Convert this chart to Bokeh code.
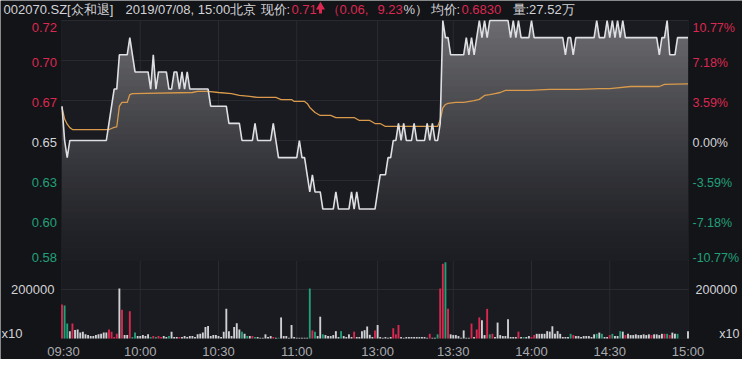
import numpy as np
from bokeh.plotting import figure
from bokeh.models import Range1d, BoxAnnotation
from bokeh.embed import file_html
from bokeh.resources import INLINE
from bokeh.core.properties import value

# ---------------- data ----------------
minutes = list(range(241))

price = (
    [0.67, 0.65, 0.64] + [0.65] * 15 +
    [0.66, 0.67, 0.68, 0.68, 0.70, 0.70, 0.70, 0.70, 0.71, 0.70] +
    [0.69] * 6 +
    [0.68, 0.70, 0.68, 0.69, 0.69, 0.69, 0.69, 0.68, 0.68, 0.69, 0.69, 0.68, 0.69, 0.68, 0.69] +
    [0.68] * 8 +
    [0.67] * 7 + [0.66] * 5 + [0.65] * 5 + [0.66] + [0.65] * 6 + [0.66, 0.65] +
    [0.64] * 8 + [0.65, 0.64, 0.64, 0.63, 0.62, 0.63, 0.62, 0.62, 0.62] +
    [0.61] * 5 + [0.62] + [0.61] * 5 + [0.62, 0.61, 0.62] + [0.61] * 7 +
    [0.62, 0.63, 0.63, 0.63, 0.64, 0.64, 0.65, 0.65, 0.66, 0.65, 0.66, 0.65, 0.65, 0.65, 0.66,
     0.65, 0.65, 0.65, 0.65, 0.66, 0.65, 0.66, 0.65, 0.65, 0.66, 0.72, 0.71, 0.71] +
    [0.70] * 6 +
    [0.71, 0.70, 0.71, 0.70, 0.71, 0.72, 0.71, 0.72, 0.71] +
    [0.72] * 8 +
    [0.71, 0.72, 0.71, 0.72] + [0.71] * 4 + [0.72] + [0.71] * 12 +
    [0.70, 0.71, 0.71, 0.70] + [0.71] * 8 +
    [0.72, 0.71, 0.71, 0.71, 0.72, 0.71, 0.72, 0.71, 0.72, 0.71, 0.72] +
    [0.71] * 13 + [0.70, 0.71, 0.71, 0.72, 0.70, 0.70, 0.70] + [0.71] * 5
)

avg_minute = [0, 1, 2, 3, 4, 18, 19, 20, 21, 22, 23, 25, 26, 27, 50, 52, 56, 60, 65, 68, 72,
              75, 82, 84, 88, 89, 93, 94, 95, 97, 99, 103, 105, 112, 114, 118, 120, 122, 124,
              144, 145, 146, 147, 148, 151, 154, 158, 160, 162, 164, 166, 168, 170, 179, 187,
              198, 206, 210, 218, 229, 231, 240]
avg_price = [0.6693, 0.6625, 0.6595, 0.6575, 0.6564, 0.6564, 0.6570, 0.6576, 0.6580, 0.6700,
             0.6722, 0.6722, 0.6768, 0.6774, 0.6780, 0.6786, 0.6786, 0.6780, 0.6774, 0.6763,
             0.6757, 0.6751, 0.6751, 0.6739, 0.6739, 0.6728, 0.6728, 0.6716, 0.6693, 0.6663,
             0.6646, 0.6646, 0.6634, 0.6634, 0.6617, 0.6617, 0.6599, 0.6599, 0.6582, 0.6582,
             0.6620, 0.6690, 0.6710, 0.6716, 0.6722, 0.6722, 0.6733, 0.6740, 0.6763, 0.6768,
             0.6774, 0.6780, 0.6792, 0.6792, 0.6798, 0.6798, 0.6803, 0.6803, 0.6815, 0.6815,
             0.6827, 0.6830]

volume = [
    139000, 135000, 61000, 30000, 61000, 35000, 37000, 24000, 28000, 17000,
    14000, 10000, 10000, 14000, 17000, 19000, 24000, 24000, 37000, 28000,
    6000, 19000, 204000, 117000, 14000, 14000, 111000, 6000, 24000, 10000,
    10000, 14000, 10000, 17000, 6000, 10000, 6000, 10000, 6000, 10000,
    6000, 10000, 28000, 6000, 6000, 6000, 6000, 10000, 6000, 10000,
    10000, 6000, 17000, 19000, 24000, 47000, 51000, 10000, 14000, 14000,
    10000, 6000, 28000, 121000, 30000, 10000, 47000, 62000, 37000, 28000,
    19000, 10000, 10000, 10000, 6000, 6000, 3000, 3000, 17000, 6000,
    10000, 6000, 3000, 3000, 86000, 10000, 10000, 3000, 55000, 6000,
    3000, 3000, 3000, 3000, 3000, 204000, 33000, 28000, 10000, 89000,
    17000, 14000, 10000, 10000, 14000, 30000, 6000, 30000, 10000, 6000,
    17000, 6000, 28000, 6000, 6000, 30000, 34000, 49000, 15000, 6000,
    33000, 55000, 6000, 3000, 6000, 3000, 6000, 42000, 17000, 55000,
    6000, 3000, 6000, 6000, 6000, 6000, 6000, 6000, 6000, 6000,
    3000, 19000, 3000, 3000, 17000, 204000, 305000, 311000, 121000, 17000,
    14000, 14000, 10000, 3000, 33000, 3000, 3000, 61000, 6000, 37000,
    86000, 75000, 14000, 121000, 17000, 19000, 6000, 65000, 14000, 10000,
    10000, 79000, 6000, 6000, 6000, 28000, 6000, 6000, 6000, 10000,
    6000, 14000, 19000, 19000, 19000, 19000, 30000, 28000, 50000, 19000,
    30000, 19000, 6000, 6000, 6000, 19000, 14000, 10000, 10000, 6000,
    10000, 10000, 10000, 6000, 17000, 19000, 24000, 19000, 6000, 6000,
    14000, 19000, 10000, 10000, 30000, 28000, 14000, 19000, 14000, 14000,
    17000, 14000, 14000, 17000, 14000, 17000, 14000, 17000, 17000, 14000,
    19000, 19000, 19000, 14000, 24000, 19000, 19000, 0, 0, 0,
    30000,
]
volume_side = (
    "rggwrwwwww" "wwwwwwwwrr" "rrwrwwrggw" "wwwwgrgrrw" "wgwwwrwwww"
    "wwwwwwwwww" "wwwwwwwwwg" "wgwrgwwwww" "wrwgwwwwww" "wwwwwgrgww"
    "gwwwwwwgww" "wwrwwwwwww" "rwwwwwwrrr" "wwwwwwwwww" "wrwwgrrgrw"
    "wwwwwwwrwr" "rwwrgrwwww" "wwwwwrwgww" "rrwwwwwwww" "wwwwwgrwww"
    "wwwwwgwgww" "rgwwgwrwww" "wwwwwwrwww" "wrgrwwgwww" "w"
)

prev_close = 0.65
pct_ticks = [10.77, 7.18, 3.59, 0.0, -3.59, -7.18, -10.77]
left_tick_labels = ["0.72", "0.70", "0.67", "0.65", "0.63", "0.60", "0.58"]
right_tick_labels = ["10.77%", "7.18%", "3.59%", "0.00%", "-3.59%", "-7.18%", "-10.77%"]
time_ticks = [0, 30, 60, 90, 121, 150, 180, 210, 240]
time_labels = ["09:30", "10:00", "10:30", "11:00", "13:00", "13:30", "14:00", "14:30", "15:00"]
vol_tick = 200000
vol_tick_label = "200000"
vol_unit = "x10"

header_parts = [
    ("002070.SZ[众和退]", "w"), ("2019/07/08, 15:00北京", "w"), ("现价:", "w"),
    ("0.71", "r"), ("（0.06,", "r"), ("9.23", "r"), ("%）", "w"),
    ("均价:", "w"), ("0.6830", "r"), ("量:27.52万", "w"),
]

assert len(price) == 241, len(price)
assert len(volume) == 241, len(volume)
assert len(volume_side) == 241, len(volume_side)

# ---------------- layout (pixel geometry) ----------------
RED = "#dc2850"
GREEN = "#22a078"
WHITE = "#cfd0d3"
TXT = "#d2d3d6"
AXIS_GRAY = "#a9aaae"
PLOT_BG = "#1a1b20"
BORDER_BG = "#131418"
GRID = "#2a2b30"
FONT = "Liberation Sans"
side_color = {"r": RED, "g": GREEN, "w": WHITE}

W, H = 742, 359
PX_L, PX_R = 61.5, 687.5          # pixel x of first / last minute
PL_L, PL_R = 61, 688               # plot area left / right
PL_T, PRICE_B, PL_B = 20, 260, 338  # plot top, price-panel bottom, volume baseline
VOL_TICK_PX = 289                  # pixel y of the 200000 volume grid line

price_hi = round(prev_close * (1 + pct_ticks[0] / 100), 2)
price_lo = round(prev_close * (1 + pct_ticks[-1] / 100), 2)
xs = (PX_R - PX_L) / 240.0                      # px per minute
ys = (PRICE_B - PL_T) / (price_hi - price_lo)   # px per price unit
vs = (PL_B - VOL_TICK_PX) / vol_tick            # px per volume unit


def X(px):
    return (px - PX_L) / xs


def YP(py):
    return price_hi + (PL_T - py) / ys


def YV(py):
    return (PL_B - py) / vs


p = figure(width=W, height=H, output_backend="svg", toolbar_location=None,
           x_range=Range1d(X(0), X(W)), y_range=Range1d(YP(H), YP(0)),
           x_axis_type=None, y_axis_type=None,
           min_border_left=0, min_border_right=0, min_border_top=0, min_border_bottom=0,
           background_fill_color=BORDER_BG, border_fill_color=BORDER_BG,
           outline_line_color=None)
p.title = None
p.extra_y_ranges = {"vol": Range1d(YV(H), YV(0))}

# plot-area background
p.add_layout(BoxAnnotation(left=X(PL_L), right=X(PL_R), top=YP(PL_T), bottom=YP(PL_B),
                           fill_color=PLOT_BG, fill_alpha=1.0, line_color="#2c2d32",
                           line_width=1, level="underlay"))

price_ticks = [prev_close * (1 + t / 100) for t in pct_ticks]

# grid lines
p.segment(x0=[X(PL_L)] * len(price_ticks), x1=[X(PL_R)] * len(price_ticks),
          y0=price_ticks, y1=price_ticks, line_color=GRID, line_width=1)
inner_t = time_ticks[1:-1]
p.segment(x0=inner_t, x1=inner_t, y0=[YP(PL_T)] * len(inner_t), y1=[YP(PL_B)] * len(inner_t),
          line_color=GRID, line_width=1)
p.segment(x0=[X(PL_L)], x1=[X(PL_R)], y0=[vol_tick], y1=[vol_tick], y_range_name="vol",
          line_color=GRID, line_width=1)

# gradient area under the price line (stacked bands)
px = np.array(minutes, dtype=float)
pr = np.array(price, dtype=float)
top_rgb = np.array([0x6c, 0x6c, 0x70])
bot_rgb = np.array([0x1c, 0x1d, 0x22])
n_bands = 40
levels = np.linspace(price_lo, price_hi, n_bands + 1)[1:][::-1]
for lev in levels:
    t = (lev - price_lo) / (price_hi - price_lo)
    c = bot_rgb + (top_rgb - bot_rgb) * (t ** 1.3)
    col = "#%02x%02x%02x" % tuple(int(round(v)) for v in c)
    p.varea(x=px, y1=price_lo, y2=np.minimum(pr, lev), fill_color=col, fill_alpha=1.0)

# volume bars
p.vbar(x=minutes, top=volume, bottom=0, width=0.72, y_range_name="vol",
       fill_color=[side_color[s] for s in volume_side], line_color=None)

# average and price lines
p.line(avg_minute, avg_price, line_color="#d99a4c", line_width=1.3)
p.line(minutes, price, line_color="#dedfe2", line_width=1.6)


def txt(x, y, text, color, align="left", size="13px", font=FONT, y_range_name="default"):
    p.text(x=[x], y=[y], text=[text], text_color=color, text_align=align,
           text_baseline="middle", text_font=value(font), text_font_size=value(size),
           y_range_name=y_range_name)


# price axis labels (centres a little below their grid lines, extremes nudged inward)
label_centre_px = [27, 62, 102, 142, 182, 222, 257]
for i, (ll, rl) in enumerate(zip(left_tick_labels, right_tick_labels)):
    col = RED if pct_ticks[i] > 0 else (GREEN if pct_ticks[i] < 0 else TXT)
    yy = YP(label_centre_px[i])
    txt(X(56.5), yy, ll, col, align="right")
    txt(X(692), yy, rl, col, align="left", size="12.5px")

# volume axis labels
txt(X(54), vol_tick, vol_tick_label, TXT, align="right", y_range_name="vol")
txt(X(695), vol_tick, vol_tick_label, TXT, align="left", size="12.5px", y_range_name="vol")
txt(X(1), YV(333), vol_unit, TXT, align="left", y_range_name="vol")
txt(X(739), YV(333), vol_unit, TXT, align="right", size="12.5px", y_range_name="vol")

# time labels
for m, lab in zip(time_ticks, time_labels):
    xx = m + (1.5 / xs if m == 0 else 0)
    txt(xx, YV(350.5), lab, AXIS_GRAY, align="center", size="13px", y_range_name="vol")

# header
header_px = [3, 125, 260, 291, 326, 377, 403, 430, 461, 512]
for (t_, c), hx in zip(header_parts, header_px):
    txt(X(hx), YP(8.5), t_, RED if c == "r" else TXT)

# red up-arrow icon in the header
arrow_x = X(320)
p.scatter(x=[arrow_x], y=[YP(6.5)], marker="triangle", size=9, fill_color=RED,
          line_color=None)
p.vbar(x=[arrow_x], width=3.0 / xs, top=[YP(8)], bottom=[YP(13)], fill_color=RED,
       line_color=None)

open("out.html", "w").write(file_html(p, INLINE))
